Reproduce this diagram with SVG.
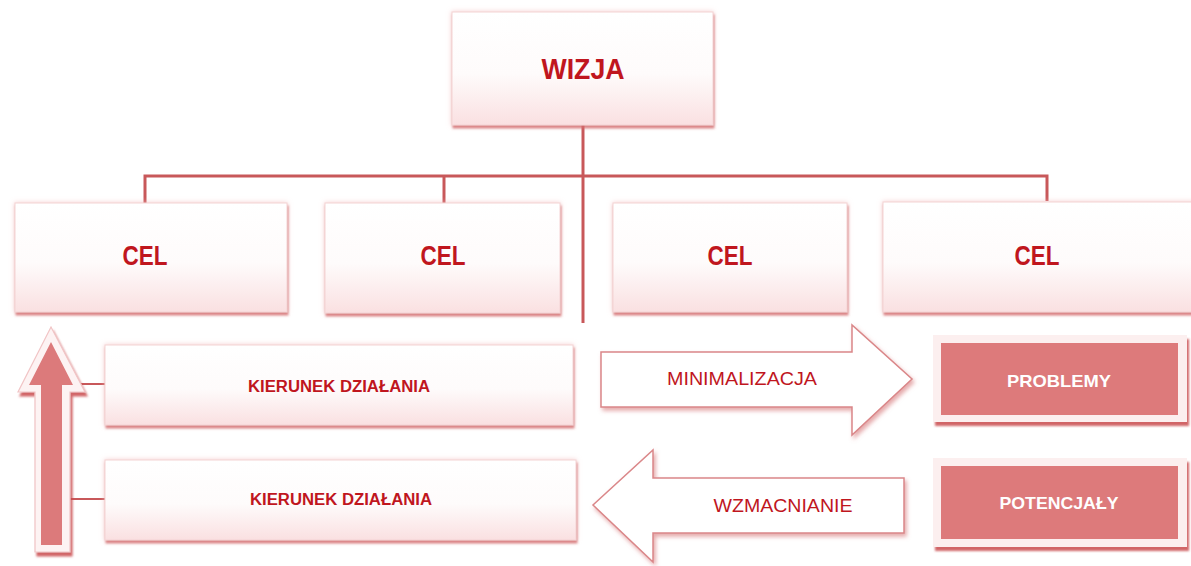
<svg xmlns="http://www.w3.org/2000/svg" width="1191" height="566" viewBox="0 0 1191 566">
<defs>
<linearGradient id="gBox" x1="0" y1="0" x2="0" y2="1">
<stop offset="0" stop-color="#ffffff"/>
<stop offset="0.55" stop-color="#fefbfb"/>
<stop offset="1" stop-color="#fae0e1"/>
</linearGradient>
<filter id="shBox" x="-5%" y="-10%" width="110%" height="125%">
<feGaussianBlur in="SourceAlpha" stdDeviation="2.5" result="b"/>
<feOffset in="b" dx="0" dy="0" result="glow"/>
<feFlood flood-color="#f2b8b9" flood-opacity="0.7"/>
<feComposite in2="glow" operator="in" result="g2"/>
<feGaussianBlur in="SourceAlpha" stdDeviation="1.2" result="b2"/>
<feOffset in="b2" dx="1" dy="3" result="off"/>
<feFlood flood-color="#d06062" flood-opacity="0.75"/>
<feComposite in2="off" operator="in" result="s2"/>
<feMerge><feMergeNode in="g2"/><feMergeNode in="s2"/><feMergeNode in="SourceGraphic"/></feMerge>
</filter>
<filter id="shArrow" x="-10%" y="-10%" width="125%" height="130%">
<feGaussianBlur in="SourceAlpha" stdDeviation="2" result="b"/>
<feOffset in="b" dx="2" dy="3" result="off"/>
<feFlood flood-color="#d47072" flood-opacity="0.6"/>
<feComposite in2="off" operator="in" result="s"/>
<feMerge><feMergeNode in="s"/><feMergeNode in="SourceGraphic"/></feMerge>
</filter>
<filter id="shHard" x="-10%" y="-10%" width="125%" height="125%">
<feOffset in="SourceAlpha" dx="2" dy="4" result="off"/>
<feFlood flood-color="#c94a4c" flood-opacity="0.85"/>
<feComposite in2="off" operator="in" result="s"/>
<feGaussianBlur in="s" stdDeviation="0.8" result="sb"/>
<feMerge><feMergeNode in="sb"/><feMergeNode in="SourceGraphic"/></feMerge>
</filter>
</defs>
<style>
.box{fill:url(#gBox);stroke:#f4d3d4;stroke-width:1;filter:url(#shBox)}
.t{font-family:"Liberation Sans",Arial,sans-serif;font-weight:bold;fill:#c0161e;text-anchor:middle}
.big{font-size:27px}
.kd{font-size:16px}
.reg{font-family:"Liberation Sans",Arial,sans-serif;font-size:18px;fill:#c0161e;text-anchor:middle}
.wt{font-family:"Liberation Sans",Arial,sans-serif;font-weight:bold;font-size:17px;fill:#ffffff;text-anchor:middle}
.con{stroke:#c8585a;stroke-width:3;fill:none}
.con2{stroke:#c8585a;stroke-width:2;fill:none}
.harrow{fill:#ffffff;stroke:#da8789;stroke-width:1.5;filter:url(#shArrow)}
.frame{fill:#fcefef;filter:url(#shHard)}
.inner{fill:#dd7a7b}
</style>

<g id="connectors">
<path class="con" d="M583,125 V323"/>
<path class="con" d="M145,203 V176 H1047 V201"/>
<path class="con" d="M444,176 V203"/>
<path class="con2" d="M70,384 H105"/>
<path class="con2" d="M70,499 H105"/>
</g>

<g id="wizja">
<rect class="box" x="452" y="12" width="261" height="113"/>
<text class="t" x="583" y="79" font-size="30" textLength="83" lengthAdjust="spacingAndGlyphs">WIZJA</text>
</g>

<g id="cel1">
<rect class="box" x="15" y="203" width="272" height="109"/>
<text class="t big" x="145" y="265" textLength="45" lengthAdjust="spacingAndGlyphs">CEL</text>
</g>
<g id="cel2">
<rect class="box" x="325" y="203" width="235" height="110"/>
<text class="t big" x="443" y="265" textLength="45" lengthAdjust="spacingAndGlyphs">CEL</text>
</g>
<g id="cel3">
<rect class="box" x="613" y="203" width="234" height="109"/>
<text class="t big" x="730" y="265" textLength="45" lengthAdjust="spacingAndGlyphs">CEL</text>
</g>
<g id="cel4">
<rect class="box" x="883" y="202" width="312" height="110"/>
<text class="t big" x="1037" y="265" textLength="45" lengthAdjust="spacingAndGlyphs">CEL</text>
</g>

<g id="kierunek1">
<rect class="box" x="105" y="345" width="468" height="80"/>
<text class="t kd" x="339" y="392" textLength="182" lengthAdjust="spacingAndGlyphs">KIERUNEK DZIAŁANIA</text>
</g>
<g id="kierunek2">
<rect class="box" x="105" y="460" width="471" height="80"/>
<text class="t kd" x="341" y="505" textLength="182" lengthAdjust="spacingAndGlyphs">KIERUNEK DZIAŁANIA</text>
</g>

<g id="up-arrow">
<path d="M51,327 L85,392 L70,392 L70,552 L35,552 L35,392 L18,392 Z" fill="#fdf3f3" stroke="#f1c4c5" stroke-width="1.2" filter="url(#shHard)"/>
<path d="M51,342 L73,385 L62,385 L62,545 L41,545 L41,385 L29,385 Z" fill="#dc7a7b"/>
</g>

<g id="minimalizacja">
<path class="harrow" d="M601,352 L852,352 L852,325 L912,379 L852,435 L852,407 L601,407 Z"/>
<text class="reg" x="742" y="385" textLength="150" lengthAdjust="spacingAndGlyphs">MINIMALIZACJA</text>
</g>

<g id="wzmacnianie">
<path class="harrow" d="M904,478 L653,478 L653,450 L593,505 L653,562 L653,533 L904,533 Z"/>
<text class="reg" x="783" y="512" textLength="139" lengthAdjust="spacingAndGlyphs">WZMACNIANIE</text>
</g>

<g id="problemy">
<rect class="frame" x="933" y="335" width="254" height="87"/>
<rect class="inner" x="941" y="343" width="237" height="72"/>
<text class="wt" x="1059" y="387" textLength="104" lengthAdjust="spacingAndGlyphs">PROBLEMY</text>
</g>

<g id="potencjaly">
<rect class="frame" x="933" y="458" width="254" height="89"/>
<rect class="inner" x="941" y="466" width="237" height="73"/>
<text class="wt" x="1059" y="509" textLength="119" lengthAdjust="spacingAndGlyphs">POTENCJAŁY</text>
</g>
</svg>
